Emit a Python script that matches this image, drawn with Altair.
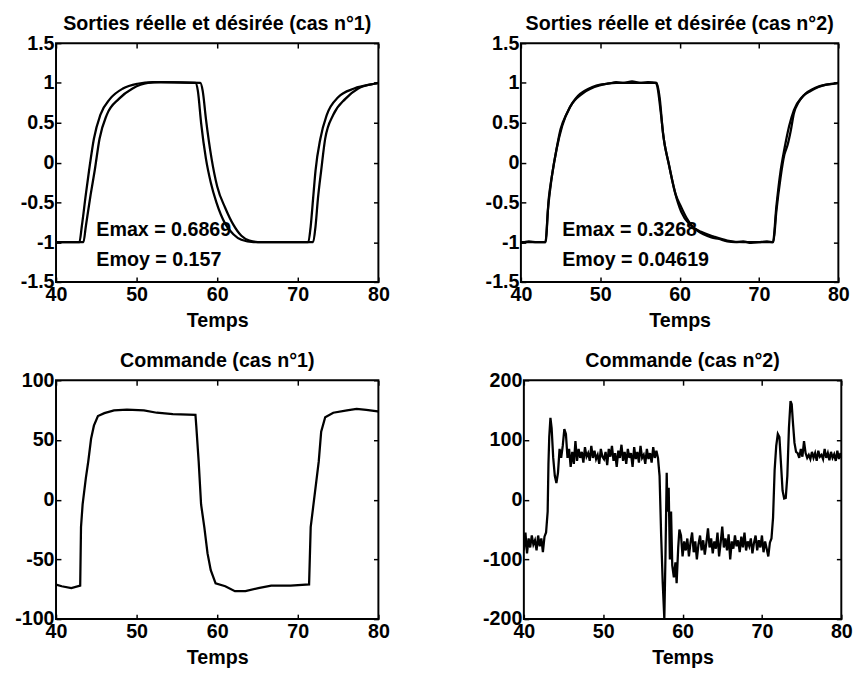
import altair as alt
import pandas as pd

FONT = "Liberation Sans"

# ---------------- tick values ----------------
X_TICKS = [40, 50, 60, 70, 80]
Y_TICKS_OUT = [-1.5, -1, -0.5, 0, 0.5, 1, 1.5]
Y_TICKS_C1 = [-100, -50, 0, 50, 100]
Y_TICKS_C2 = [-200, -100, 0, 100, 200]

# ---------------- case 1 : outputs ----------------
T_D1 = [40, 42.9, 43.2, 43.7, 44.1, 44.7, 45.5, 46.7, 48.3, 50.1, 52, 57.3,
        57.6, 58.0, 58.6, 59.2, 59.9, 61.0, 62.0, 63.0, 64.5, 71.3,
        71.6, 71.9, 72.2, 72.8, 73.6, 75.0, 77.0, 79.5, 80]
Y_D1 = [-1, -1, -0.8, -0.4, -0.1, 0.3, 0.6, 0.8, 0.93, 0.99, 1.01, 1.0,
        0.9, 0.5, 0.05, -0.25, -0.5, -0.77, -0.9, -0.97, -1.0, -1.0,
        -0.8, -0.45, -0.1, 0.3, 0.6, 0.82, 0.93, 0.99, 1.0]

T_R1 = [40, 43.4, 43.7, 44.3, 44.8, 45.4, 46.3, 47.8, 49.5, 51.4, 53, 57.9,
        58.2, 58.6, 59.3, 60.0, 61.0, 62.0, 63.0, 64.0, 65.5, 71.9,
        72.2, 72.5, 72.9, 73.4, 74.4, 75.9, 77.5, 79.5, 80]
Y_R1 = [-1, -1, -0.8, -0.4, -0.1, 0.3, 0.6, 0.8, 0.93, 1.0, 1.01, 1.0,
        0.9, 0.55, 0.05, -0.3, -0.57, -0.78, -0.92, -0.98, -1.0, -1.0,
        -0.8, -0.45, -0.1, 0.3, 0.6, 0.8, 0.93, 0.99, 1.0]

# ---------------- case 2 : outputs ----------------
T_D2 = [40, 43.1, 43.5, 43.9, 44.5, 45.2, 46.2, 47.8, 49.9, 52, 57.1,
        57.5, 57.9, 58.6, 59.4, 60.2, 61.4, 62.7, 64.3, 66, 68, 71.75,
        72.2, 72.7, 73.2, 73.8, 74.4, 75.5, 77.1, 80]
Y_D2 = [-1, -1, -0.46, -0.17, 0.17, 0.46, 0.7, 0.87, 0.97, 1.0, 1.0,
        0.8, 0.37, 0.0, -0.37, -0.62, -0.79, -0.87, -0.93, -0.98, -1.0, -1.0,
        -0.54, -0.12, 0.17, 0.46, 0.66, 0.83, 0.94, 1.0]

T_R2 = [40, 41, 42, 43.1, 43.4, 43.8, 44.4, 45.0, 45.8, 46.5, 47.2, 48, 49, 50,
        51, 52, 53, 54, 55, 56, 57, 57.2, 57.6, 58.0, 58.7, 59.5, 60.2, 60.9,
        61.6, 62.3, 63, 64, 65, 66, 67, 68, 69, 70, 71, 71.8, 72.2, 72.7,
        73.2, 73.6, 74.0, 74.4, 75, 75.6, 76.5, 77.5, 78.5, 79.5, 80]
Y_R2 = [-1.01, -0.99, -1.0, -1.0, -0.6, -0.25, 0.12, 0.42, 0.62, 0.75, 0.84, 0.9,
        0.95, 0.98, 0.99, 1.01, 1.0, 1.02, 1.0, 1.01, 1.0, 0.95, 0.65, 0.3, -0.05,
        -0.4, -0.56, -0.7, -0.8, -0.86, -0.9, -0.94, -0.96, -0.99, -1.0, -0.99,
        -1.01, -1.0, -0.99, -1.0, -0.6, -0.2, 0.1, 0.22, 0.4, 0.62, 0.76, 0.84,
        0.9, 0.95, 0.98, 0.99, 1.0]

# ---------------- case 1 : command ----------------
T_C1 = [40, 40.7, 41.9, 43.0, 43.1, 43.3, 43.7, 44.0, 44.35, 44.7, 45.2, 46.0,
        47.2, 48.8, 50.9, 52.5, 54.5, 57.3, 57.4, 57.7, 58.0, 58.4, 58.8, 59.2,
        59.8, 61.0, 62.2, 63.5, 65.1, 66.7, 69.1, 71.4, 71.6, 71.9, 72.3, 72.6,
        72.9, 73.4, 74.4, 76.1, 77.3, 78.5, 79.9, 80]
U_C1 = [-71, -72.5, -74, -72, -23, -4, 18, 32, 51, 62, 70, 72.5,
        74.7, 75.5, 74.7, 72.8, 71.7, 71.1, 62, 32, -4, -23, -45, -59,
        -70, -72.5, -76.6, -76.6, -74, -72, -72, -71, -23, -6.5, 15.5, 32,
        57, 69, 72.8, 74.7, 76, 75.2, 74, 73.5]

# ---------------- case 2 : command ----------------
T_C2 = [40.0, 40.2, 40.4, 40.6, 40.8, 41.0, 41.2, 41.4, 41.6, 41.8, 42.0, 42.2,
        42.4, 42.6, 42.8, 43.0, 43.1, 43.2, 43.35, 43.5, 43.7, 43.9, 44.1, 44.3,
        44.5, 44.7, 44.9, 45.1, 45.3, 45.5, 45.7, 45.9, 46.1, 46.3, 46.5, 46.7,
        46.9, 47.1, 47.3, 47.5, 47.7, 47.9, 48.1, 48.3, 48.5, 48.7, 48.9, 49.1,
        49.3, 49.5, 49.7, 49.9, 50.1, 50.3, 50.5, 50.7, 50.9, 51.1, 51.3, 51.5,
        51.7, 51.9, 52.1, 52.3, 52.5, 52.7, 52.9, 53.1, 53.3, 53.5, 53.7, 53.9,
        54.1, 54.3, 54.5, 54.7, 54.9, 55.1, 55.3, 55.5, 55.7, 55.9, 56.1, 56.3,
        56.5, 56.7, 56.9, 57.1, 57.3, 57.5, 57.7, 57.85, 58.0, 58.1, 58.25, 58.4,
        58.55, 58.7, 58.9, 59.1, 59.25, 59.45, 59.6, 59.8, 60.0, 60.2, 60.4, 60.6,
        60.8, 61.0, 61.2, 61.4, 61.6, 61.8, 62.0, 62.2, 62.4, 62.6, 62.8, 63.0,
        63.2, 63.4, 63.6, 63.8, 64.0, 64.2, 64.4, 64.6, 64.8, 65.0, 65.2, 65.4,
        65.6, 65.8, 66.0, 66.2, 66.4, 66.6, 66.8, 67.0, 67.2, 67.4, 67.6, 67.8,
        68.0, 68.2, 68.4, 68.6, 68.8, 69.0, 69.2, 69.4, 69.6, 69.8, 70.0, 70.2,
        70.4, 70.6, 70.8, 71.0, 71.2, 71.4, 71.6, 71.8, 72.0, 72.2, 72.4, 72.6,
        72.8, 73.0, 73.2, 73.4, 73.6, 73.75, 73.9, 74.1, 74.3, 74.5, 74.7, 74.9,
        75.1, 75.3, 75.5, 75.7, 75.9, 76.1, 76.3, 76.5, 76.7, 76.9, 77.1, 77.3,
        77.5, 77.7, 77.9, 78.1, 78.3, 78.5, 78.7, 78.9, 79.1, 79.3, 79.5, 79.7,
        79.9, 80.0]
U_C2 = [-85, -55, -90, -65, -80, -60, -75, -68, -85, -60, -78, -65,
        -88, -62, -55, -20, 60, 105, 137, 120, 70, 40, 28, 45,
        85, 70, 90, 118, 110, 70, 85, 55, 80, 60, 98, 65,
        85, 70, 80, 62, 88, 72, 78, 65, 90, 70, 82, 68,
        75, 60, 85, 72, 68, 80, 58, 85, 72, 90, 65, 78,
        55, 82, 70, 92, 65, 80, 60, 85, 70, 78, 55, 88,
        68, 80, 62, 90, 70, 75, 60, 85, 68, 78, 62, 88,
        70, 82, 70, 40, -60, -140, -200, -90, 45, -20, 20, -100,
        -20, -110, -130, -105, -140, -80, -50, -60, -95, -70, -85, -65,
        -95, -72, -55, -88, -70, -100, -75, -60, -85, -68, -92, -72,
        -48, -80, -65, -90, -70, -82, -55, -95, -72, -45, -80, -65,
        -85, -58, -100, -70, -82, -60, -78, -68, -88, -62, -80, -55,
        -85, -70, -78, -65, -90, -72, -60, -85, -68, -80, -60, -88,
        -70, -82, -95, -72, -65, -30, 50, 90, 110, 105, 60, 15,
        2, 3, 40, 120, 165, 160, 130, 95, 80, 78, 70, 85,
        72, 98, 78, 70, 75, 68, 80, 70, 78, 65, 82, 72,
        75, 68, 85, 70, 78, 66, 80, 70, 76, 65, 82, 68,
        78, 70]

# ---------------- annotations ----------------
ANN1_T = [45, 45]
ANN1_V = [-0.85, -1.23]
ANN1_L = ["Emax = 0.6869", "Emoy = 0.157"]
ANN2_T = [45.2, 45.2]
ANN2_V = [-0.85, -1.23]
ANN2_L = ["Emax = 0.3268", "Emoy = 0.04619"]

TITLES = ["Sorties réelle et désirée (cas n°1)", "Sorties réelle et désirée (cas n°2)",
          "Commande (cas n°1)", "Commande (cas n°2)"]


def series(pairs):
    rows = []
    for name, ts, vs in pairs:
        for t, v in zip(ts, vs):
            rows.append({"s": name, "t": t, "v": v})
    return pd.DataFrame(rows)


LABEL_EXPR = "'' + datum.value"


def panel(df, ydom, yticks, title, w, h, interp, ann=None):
    xs = alt.Scale(domain=[40, 80], nice=False, zero=False)
    ys = alt.Scale(domain=ydom, nice=False, zero=False)
    line = alt.Chart(df).mark_line(color="black", strokeWidth=2.3, interpolate=interp, clip=True).encode(
        x=alt.X("t:Q", scale=xs, axis=alt.Axis(values=X_TICKS, title="Temps", orient="bottom",
                                               offset=-5, tickSize=5, labelPadding=3, titlePadding=6,
                                               labelFlush=False, labelExpr=LABEL_EXPR)),
        y=alt.Y("v:Q", scale=ys, axis=alt.Axis(values=yticks, title=None, orient="left",
                                               offset=-5, tickSize=5, labelPadding=2,
                                               labelFlush=False, minExtent=45, maxExtent=45,
                                               labelExpr=LABEL_EXPR)),
        detail="s:N",
    )
    mirror = alt.Chart(df).mark_line(opacity=0).encode(
        x=alt.X("t:Q", scale=xs, axis=alt.Axis(values=X_TICKS, orient="top", labels=False, title=None,
                                               offset=-5, tickSize=5, minExtent=0, maxExtent=0)),
        y=alt.Y("v:Q", scale=ys, axis=alt.Axis(values=yticks, orient="right", labels=False, title=None,
                                               offset=-5, tickSize=5, minExtent=0, maxExtent=0)),
        detail="s:N",
    )
    layers = [line, mirror]
    if ann is not None:
        ts, vs, ls = ann
        adf = pd.DataFrame({"t": ts, "v": vs, "label": ls})
        txt = alt.Chart(adf).mark_text(align="left", baseline="middle", font=FONT, fontSize=20,
                                       fontWeight="bold", color="black").encode(
            x=alt.X("t:Q", scale=xs, axis=None),
            y=alt.Y("v:Q", scale=ys, axis=None),
            text="label:N",
        )
        layers.append(txt)
    return alt.layer(*layers).resolve_axis(x="independent", y="independent").properties(
        width=w, height=h, title=title)


df1 = series([("désirée", T_D1, Y_D1), ("réelle", T_R1, Y_R1)])
df2 = series([("désirée", T_D2, Y_D2), ("réelle", T_R2, Y_R2)])
df3 = series([("commande", T_C1, U_C1)])
df4 = series([("commande", T_C2, U_C2)])

W_L, W_R, H = 328, 323, 243

p1 = panel(df1, [-1.5, 1.5], Y_TICKS_OUT, TITLES[0], W_L, H, "monotone", (ANN1_T, ANN1_V, ANN1_L))
p2 = panel(df2, [-1.5, 1.5], Y_TICKS_OUT, TITLES[1], W_R, H, "monotone", (ANN2_T, ANN2_V, ANN2_L))
p3 = panel(df3, [-100, 100], Y_TICKS_C1, TITLES[2], W_L, H, "linear")
p4 = panel(df4, [-200, 200], Y_TICKS_C2, TITLES[3], W_R, H, "linear")

top = alt.hconcat(p1, p2, spacing=91)
bottom = alt.hconcat(p3, p4, spacing=91)

chart = alt.vconcat(top, bottom, spacing=20).properties(
    padding={"left": 13, "top": 8, "right": 5, "bottom": 2},
    background="white",
).configure_view(
    stroke="black", strokeWidth=2
).configure_axis(
    labelFont=FONT, labelFontSize=20, labelFontWeight="bold", labelColor="black",
    titleFont=FONT, titleFontSize=20, titleFontWeight="bold", titleColor="black",
    tickColor="black", tickWidth=1.5, domain=False, grid=False,
).configure_title(
    font=FONT, fontSize=20, fontWeight="bold", color="black", offset=-1,
)

chart.save("out.html", embed_options={"renderer": "svg", "actions": False})
